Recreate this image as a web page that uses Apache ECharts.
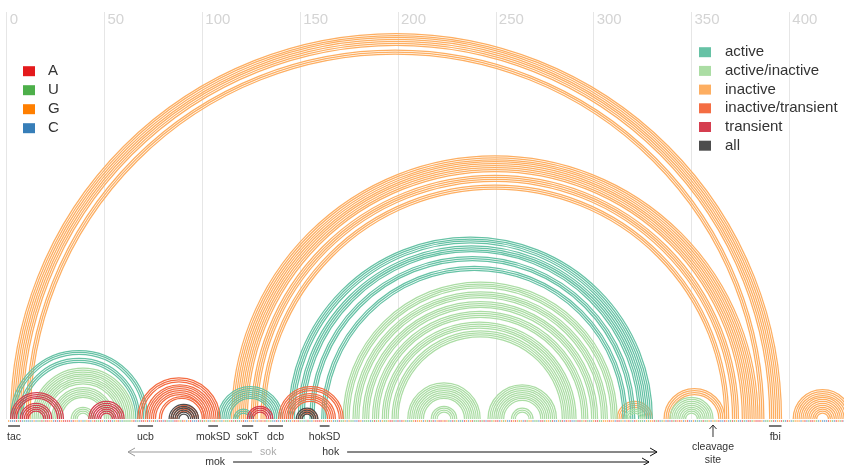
<!DOCTYPE html>
<html><head><meta charset="utf-8">
<script src="https://cdn.jsdelivr.net/npm/echarts@6/dist/echarts.min.js"></script>
<style>html,body{margin:0;padding:0;background:#fff}#c{width:844px;height:465px}</style>
</head><body><div id="c"></div>
<script>
// ---- data ----
const states = ['active','active/inactive','inactive','inactive/transient','transient','all'];
const stateColors = ['#66c2a5','#abdda4','#fdae61','#f46d43','#d53e4f','#4d4d4d'];
const nucleotides = ['A','U','G','C'];
const nucColors = ['#e41a1c','#4daf4a','#ff7f00','#377eb8'];
const xTicks = [0,50,100,150,200,250,300,350,400];

// helices: outer pair (start, end), number of stacked pairs, state index
const helixStart  = [2,10,115,120,125,130, 2,6, 13,23,33, 2,7,42, 67,71,74,78,84, 83, 108,112,116, 123, 139,142,145,149, 148, 144,149,155,161, 172,177,182,187,192,197, 205,209,217, 246,250,258, 312,316, 336,339, 402];
const helixEnd    = [396,387,384,379,374,369, 72,68, 65,55,45, 29,23,60, 109,106,103,101,98, 98, 141,137,126, 136, 172,168,165,159, 159, 330,326,321,317, 312,307,302,297,291,287, 242,238,230, 281,277,269, 330,326, 367,361, 432];
const helixLength = [7,3,5,4,4,3, 3,3, 9,6,4, 4,5,7, 3,3,3,2,4, 6, 4,3,3, 4, 3,3,2,3, 4, 4,4,3,3, 4,4,4,4,4,4, 4,5,4, 4,5,3, 4,3, 4,9, 13];
const helixState  = [2,2,2,2,2,2, 0,0, 1,1,1, 4,4,4, 3,3,3,3,3, 5, 0,0,0, 4, 3,3,3,3, 5, 0,0,0,0, 1,1,1,1,1,1, 1,1,1, 1,1,1, 2,1, 2,1, 2];

const sequence =
  "GCCCAUACUCCUCGCUUAUAAGGCACAGAAAACAGGCGCUGACGAUUAGCUAACUGAUCUUUUGACUCAAGACGAUCAACAUCUCAAGUAGCGACCCAUA" +
  "UGCUGAUGUCGUUGAUAUCGACCGGCGCGAGAUGUCCACGCUAUCGAGAUUCUAUCGAAAGUGAAGCUCAUUGCGUUCCAGCUUUCUAUGCGUUGAAUCA" +
  "CAGUCUUGAGGGCGUAUACGAAGAGUCAUGCUCAGCGAUUUAUACAAUGAACGUGCCAGAGUGCAUGGCUUCAAUGGUACCGUACAGACCUAAUGAUCUG" +
  "AAUUGGGAGGCAAUGCGAUCAGUUUCGUGGAUACUGCACAUAGAGCGACCGCUCUAUUGCGUGACCAGCUAUGCCAUCAAUGAAAGCUUGUACGGAUCAG" +
  "CUGGGCGACUAAGUCGCCCAGUCAGUACCGGA";

const markerNames = ['tac','ucb','mokSD','sokT','dcb','hokSD','fbi'];
const markerStart = [0.7, 67, 103, 120.3, 133.6, 160, 389.6];
const markerEnd   = [6.8, 74.8, 108, 126, 141.2, 165, 396];

const cleavagePos = [361];
const cleavageText = ['cleavage\nsite'];

const geneNames = ['sok','mok','hok'];
const geneFrom  = [125.4, 115.7, 174];
const geneTo    = [62, 328.3, 332.4];
const geneRow   = [0, 1, 0];
const geneColor = ['#999999', '#111111', '#111111'];
const geneTextColor = ['#aaaaaa', '#333333', '#333333'];

// ---- chart ----
const FONT = 'Liberation Sans, Arial, Helvetica, sans-serif';
const ARC_WIDTH = 1.25;
const chart = echarts.init(document.getElementById('c'), null, {renderer: 'canvas'});

function helixSeries(s) {
  const data = [];
  for (let h = 0; h < helixStart.length; h++) {
    if (helixState[h] === s) data.push([helixStart[h], helixEnd[h], helixLength[h]]);
  }
  return {
    type: 'custom', name: states[s], coordinateSystem: 'cartesian2d',
    itemStyle: {color: stateColors[s]}, silent: true, clip: false, animation: false,
    encode: {x: 0, y: 2},
    data: data,
    renderItem: function (params, api) {
      const i = api.value(0), j = api.value(1), n = api.value(2);
      const children = [];
      for (let k = 0; k < n; k++) {
        const a = api.coord([i + k, 0]);
        const b = api.coord([j - k, 0]);
        children.push({
          type: 'arc',
          shape: {cx: (a[0] + b[0]) / 2, cy: a[1], r: (b[0] - a[0]) / 2,
                  startAngle: Math.PI, endAngle: Math.PI * 2, clockwise: true},
          style: {stroke: stateColors[s], fill: 'none', lineWidth: ARC_WIDTH}
        });
      }
      return {type: 'group', children: children};
    }
  };
}

function nucSeries(q) {
  const data = [];
  for (let p = 0; p < sequence.length; p++) {
    if (sequence[p] === nucleotides[q]) data.push([p + 1, 0]);
  }
  return {
    type: 'custom', name: nucleotides[q], coordinateSystem: 'cartesian2d',
    itemStyle: {color: nucColors[q]}, silent: true, clip: false, animation: false,
    data: data,
    renderItem: function (params, api) {
      const c = api.coord([api.value(0), 0]);
      return {type: 'rect', shape: {x: c[0] - 0.6, y: c[1] + 1, width: 1.2, height: 2},
              style: {fill: nucColors[q], opacity: 0.55}};
    }
  };
}

const markerSeries = {
  type: 'custom', coordinateSystem: 'cartesian2d', silent: true, clip: false, animation: false,
  data: markerNames.map((nm, k) => [markerStart[k], markerEnd[k], k]),
  renderItem: function (params, api) {
    const a = api.coord([api.value(0), 0]);
    const b = api.coord([api.value(1), 0]);
    const k = api.value(2);
    return {type: 'group', children: [
      {type: 'line', shape: {x1: a[0], y1: a[1] + 7, x2: b[0], y2: a[1] + 7},
       style: {stroke: '#777', lineWidth: 2}},
      {type: 'text', style: {x: (a[0] + b[0]) / 2, y: a[1] + 18, text: markerNames[k],
        align: 'center', verticalAlign: 'middle', fill: '#333', fontSize: 10.5, fontFamily: FONT}}
    ]};
  }
};

const cleavageSeries = {
  type: 'custom', coordinateSystem: 'cartesian2d', silent: true, clip: false, animation: false,
  data: cleavagePos.map((p, k) => [p, k]),
  renderItem: function (params, api) {
    const c = api.coord([api.value(0), 0]);
    const k = api.value(1);
    const x = c[0], y0 = c[1];
    return {type: 'group', children: [
      {type: 'line', shape: {x1: x, y1: y0 + 18, x2: x, y2: y0 + 6}, style: {stroke: '#333', lineWidth: 1}},
      {type: 'polyline', shape: {points: [[x - 3.5, y0 + 10], [x, y0 + 6], [x + 3.5, y0 + 10]]},
       style: {stroke: '#333', lineWidth: 1, fill: 'none'}},
      {type: 'text', style: {x: x, y: y0 + 22, text: cleavageText[k], align: 'center', verticalAlign: 'top',
        fill: '#333', fontSize: 10.5, lineHeight: 12.5, fontFamily: FONT}}
    ]};
  }
};

const geneSeries = {
  type: 'custom', coordinateSystem: 'cartesian2d', silent: true, clip: false, animation: false,
  data: geneNames.map((g, k) => [geneFrom[k], geneTo[k], k]),
  renderItem: function (params, api) {
    const a = api.coord([api.value(0), 0]);
    const b = api.coord([api.value(1), 0]);
    const k = api.value(2);
    const y = a[1] + 33 + geneRow[k] * 10;
    const dir = b[0] > a[0] ? 1 : -1;
    const col = geneColor[k];
    return {type: 'group', children: [
      {type: 'line', shape: {x1: a[0], y1: y, x2: b[0], y2: y}, style: {stroke: col, lineWidth: 1}},
      {type: 'polyline', shape: {points: [[b[0] - dir * 7, y - 4], [b[0], y], [b[0] - dir * 7, y + 4]]},
       style: {stroke: col, lineWidth: 1, fill: 'none'}},
      {type: 'text', style: {x: a[0] - dir * 8, y: y, text: geneNames[k],
        align: dir > 0 ? 'right' : 'left', verticalAlign: 'middle',
        fill: geneTextColor[k], fontSize: 10.5, fontFamily: FONT}}
    ]};
  }
};

const drawOrder = [2, 0, 1, 3, 4, 5];
const series = [];
for (let q = 0; q < 4; q++) series.push(nucSeries(q));
drawOrder.forEach(s => series.push(helixSeries(s)));
series.push(markerSeries, cleavageSeries, geneSeries);

chart.setOption({
  animation: false,
  backgroundColor: '#ffffff',
  textStyle: {fontFamily: FONT},
  grid: {left: 6.7, right: 54.7, top: 12, bottom: 46, containLabel: false},
  xAxis: {
    type: 'value', position: 'top', min: xTicks[0], max: xTicks[xTicks.length - 1], interval: 50,
    axisLine: {show: false}, axisTick: {show: false},
    splitLine: {show: true, lineStyle: {color: '#e6e6e6', width: 1}},
    axisLabel: {inside: true, margin: 0, align: 'left', verticalAlign: 'top', padding: [0, 0, 0, 3],
      color: '#d4d4d4', fontSize: 15, fontFamily: FONT}
  },
  yAxis: {type: 'value', min: 0, max: 1, show: false},
  legend: [
    {data: nucleotides, orient: 'vertical', left: 18, top: 58.7, itemWidth: 12, itemHeight: 10, itemGap: 4,
     icon: 'rect', selectedMode: false,
     textStyle: {fontSize: 15, color: '#333', padding: [0, 0, 0, 8], fontFamily: FONT}},
    {data: states, orient: 'vertical', left: 694, top: 39.7, itemWidth: 12, itemHeight: 10, itemGap: 3.7,
     icon: 'rect', selectedMode: false,
     textStyle: {fontSize: 15, color: '#333', padding: [0, 0, 0, 9], fontFamily: FONT}}
  ],
  series: series
});
</script>
</body></html>
